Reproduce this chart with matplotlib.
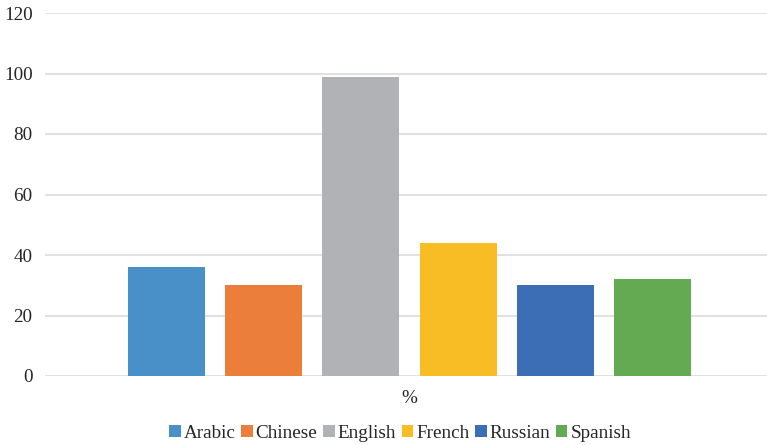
import matplotlib
matplotlib.use("Agg")
import matplotlib.pyplot as plt

languages = ["Arabic", "Chinese", "English", "French", "Russian", "Spanish"]
values = [36, 30, 99, 44, 30, 32]
colors = ["#4A90C8", "#EB7E3A", "#B1B2B5", "#F8BC25", "#3B6EB4", "#63AA53"]
category = "%"
yticks = [0, 20, 40, 60, 80, 100, 120]

plt.rcParams['font.family'] = ['Liberation Serif', 'DejaVu Serif']

fig = plt.figure(figsize=(7.67, 4.45), dpi=100)
ax = fig.add_axes([45/767, 1-376/445, 722/767, (376-13)/445])

bw = 77/722
pitch = 97.2/722
n = len(languages)
for i, (lab, v, c) in enumerate(zip(languages, values, colors)):
    x = (i - (n-1)/2) * pitch
    ax.bar(x, v, width=bw, color=c, label=lab, zorder=3)

ax.set_xlim(-0.5048, 0.4952)
ax.set_ylim(0, 120)
ax.set_yticks(yticks)
ax.set_yticklabels([str(t) for t in yticks], fontsize=13.8, color="#262626")
ax.set_xticks([0])
ax.set_xticklabels([category], fontsize=13.8, color="#262626")
ax.tick_params(axis='y', length=0, pad=9)
ax.tick_params(axis='x', length=0, pad=10)
ax.grid(axis='y', color="#D9D9D9", linewidth=1.1, zorder=0)
for s in ax.spines.values():
    s.set_visible(False)

leg = fig.legend(loc='center', bbox_to_anchor=(400/767, 1-433/445), ncol=6,
                 frameon=False, fontsize=13.8, handlelength=0.6, handleheight=0.6,
                 handletextpad=0.15, columnspacing=0.3, borderaxespad=0)
for t in leg.get_texts():
    t.set_color("#262626")

fig.savefig("out.png", dpi=100)
